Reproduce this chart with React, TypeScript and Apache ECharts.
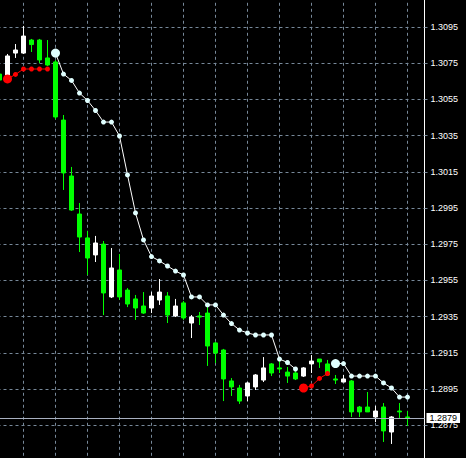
import React, { useEffect, useRef } from "react";
import * as echarts from "echarts";

// Candles, one per bar, oldest first (prices)
const OPEN = [
  1.3069, 1.30668, 1.30806, 1.30806, 1.30878, 1.30878, 1.30779, 1.30757, 1.30436, 1.30127,
  1.29917, 1.29785, 1.29691, 1.29751, 1.29459, 1.29608, 1.29497, 1.29448, 1.29409, 1.29398,
  1.29442, 1.29464, 1.29354, 1.29426, 1.29315, 1.29354, 1.2937, 1.29205, 1.29166, 1.28995,
  1.28956, 1.28912, 1.28962, 1.29, 1.29089, 1.29067, 1.29044, 1.29039, 1.29022, 1.29089,
  1.29116, 1.29089, 1.29006, 1.28989, 1.28995, 1.28851, 1.28851, 1.28796, 1.28851, 1.28713,
  1.28829, 1.28796,
];
const CLOSE = [
  1.30657, 1.3079, 1.30823, 1.309, 1.30853, 1.30768, 1.3074, 1.30453, 1.30144, 1.29939,
  1.2979, 1.29674, 1.29757, 1.29481, 1.29619, 1.29459, 1.2942, 1.29398, 1.2937, 1.29464,
  1.29486, 1.29359, 1.29409, 1.29343, 1.29348, 1.29348, 1.29188, 1.29149, 1.29006, 1.28962,
  1.28884, 1.28984, 1.29028, 1.29067, 1.29039, 1.29061, 1.29022, 1.29006, 1.29067, 1.29105,
  1.291, 1.29028, 1.29, 1.29006, 1.28824, 1.28824, 1.28824, 1.28829, 1.28719, 1.28796,
  1.28824, 1.28793,
];
const HIGH = [
  1.30701, 1.30801, 1.30856, 1.30956, 1.30884, 1.30884, 1.30878, 1.30768, 1.30464, 1.30177,
  1.29978, 1.29823, 1.29796, 1.29768, 1.29729, 1.29696, 1.29508, 1.2947, 1.29486, 1.29486,
  1.29558, 1.29486, 1.29448, 1.29437, 1.29359, 1.29376, 1.29409, 1.2921, 1.29172, 1.29011,
  1.28973, 1.28989, 1.29033, 1.29127, 1.29094, 1.29116, 1.29072, 1.29061, 1.29072, 1.29138,
  1.29116, 1.29111, 1.29028, 1.29028, 1.29, 1.28857, 1.28934, 1.28857, 1.28873, 1.28801,
  1.28873, 1.28829,
];
const LOW = [
  1.30646, 1.30657, 1.30779, 1.30801, 1.30812, 1.30751, 1.30735, 1.30442, 1.3005, 1.29934,
  1.29707, 1.2958, 1.29652, 1.29359, 1.29453, 1.29442, 1.29403, 1.29332, 1.29365, 1.2937,
  1.29415, 1.29315, 1.29348, 1.29332, 1.29232, 1.29304, 1.29078, 1.29094, 1.28884, 1.28912,
  1.28868, 1.28884, 1.28945, 1.28989, 1.29022, 1.29039, 1.28984, 1.29, 1.29017, 1.29039,
  1.29067, 1.29028, 1.28978, 1.28989, 1.28796, 1.28796, 1.28824, 1.28768, 1.28658, 1.28647,
  1.28785, 1.28746,
];

// Trailing stop indicator: white (down-trend) and red (up-trend) buffers
const TS_DOWN: (number | null)[] = [
  null, null, null, null, null, null, null, 1.30806, 1.3069, 1.30655,
  1.30585, 1.30544, 1.30489, 1.30425, 1.30425, 1.30348, 1.30133, 1.29923, 1.29774, 1.29682,
  1.29658, 1.2963, 1.29602, 1.2958, 1.29459, 1.29459, 1.29415, 1.29415, 1.29359, 1.29312,
  1.29276, 1.2926, 1.29249, 1.29249, 1.29249, 1.29116, 1.29097, 1.29061, null, null,
  null, null, 1.29091, 1.29091, 1.29022, 1.29022, 1.29022, 1.29022, 1.28984, 1.28956,
  1.28906, 1.28906,
];
const TS_UP: (number | null)[] = [
  null, 1.30663, 1.30688, 1.30718, 1.30718, 1.30718, 1.30718, null, null, null,
  null, null, null, null, null, null, null, null, null, null,
  null, null, null, null, null, null, null, null, null, null,
  null, null, null, null, null, null, null, null, 1.28956, 1.28967,
  1.29009, 1.29036, null, null, null, null, null, null, null, null,
  null, null,
];

const BID = 1.2879;
const AXIS_LOW_TICK = 1.2855; // lowest price tick label
const AXIS_HIGH_TICK = 1.3115;
const TICK_STEP = 0.002;

const GRID_COLOR = "#778899";
const BULL = "#ffffff";
const BEAR = "#00ff00";

// price -> pips above the lowest tick (axis works in pips so that min is a multiple of the interval)
const toPips = (p: number) => Math.round((p - AXIS_LOW_TICK) * 100000) / 10;

export default function App() {
  const ref = useRef<HTMLDivElement>(null);

  useEffect(() => {
    if (!ref.current) return;
    const chart = echarts.init(ref.current, null, { renderer: "svg" });

    const xs = OPEN.map((_, i) => i + 1);
    const candles = OPEN.map((o, i) => [xs[i], toPips(o), toPips(CLOSE[i]), toPips(LOW[i]), toPips(HIGH[i])]);
    const linePts = (arr: (number | null)[]) => arr.map((v, i) => [xs[i], v == null ? "-" : toPips(v)]);
    const sizeFor = (arr: (number | null)[]) => (_v: any, params: any) => {
      const i = params.dataIndex;
      return arr[i] != null && (i === 0 || arr[i - 1] == null) ? 9 : 5;
    };

    const option: any = {
      animation: false,
      backgroundColor: "#000000",
      grid: {
        left: -8.5,
        right: 41.5,
        top: -9.21,
        bottom: -3.52,
        containLabel: false,
        outerBoundsMode: "none",
      },
      xAxis: {
        type: "value",
        min: 0,
        max: 54.125,
        interval: 4,
        axisLine: { show: false },
        axisTick: { show: false },
        axisLabel: { show: false },
        splitLine: { show: true, lineStyle: { color: GRID_COLOR, type: [3, 3], width: 1 } },
      },
      yAxis: {
        type: "value",
        position: "right",
        min: 0,
        max: toPips(AXIS_HIGH_TICK),
        interval: toPips(AXIS_LOW_TICK + TICK_STEP),
        axisLine: { show: true, onZero: false, lineStyle: { color: "#ffffff", width: 1 } },
        axisTick: { show: true, length: 3, lineStyle: { color: GRID_COLOR } },
        axisLabel: {
          color: "#ffffff",
          fontFamily: "Liberation Sans",
          fontSize: 9,
          margin: 6,
          showMaxLabel: false,
          formatter: (v: number) => (AXIS_LOW_TICK + v / 10000).toFixed(4),
        },
        splitLine: { show: true, lineStyle: { color: GRID_COLOR, type: [3, 3], width: 1 } },
      },
      series: [
        {
          type: "candlestick",
          data: candles,
          barWidth: 4,
          silent: true,
          itemStyle: {
            color: BULL,
            color0: BEAR,
            borderColor: BULL,
            borderColor0: BEAR,
            borderWidth: 1,
          },
          markLine: {
            silent: true,
            symbol: ["none", "none"],
            data: [{ yAxis: toPips(BID) }],
            lineStyle: { color: "#a8b0c0", type: "solid", width: 1 },
            label: {
              show: true,
              position: "end",
              formatter: BID.toFixed(4),
              color: "#000000",
              backgroundColor: "#ffffff",
              fontFamily: "Liberation Sans",
              fontSize: 9,
              lineHeight: 10,
              padding: [0, 3, 0, 3],
              distance: 2,
            },
            emphasis: { disabled: true },
          },
        },
        {
          type: "line",
          data: linePts(TS_DOWN),
          silent: true,
          symbol: "circle",
          symbolSize: sizeFor(TS_DOWN),
          showSymbol: true,
          showAllSymbol: true,
          connectNulls: false,
          lineStyle: { color: "#ffffff", width: 1 },
          itemStyle: { color: "#e0ffff", borderWidth: 0 },
          z: 4,
        },
        {
          type: "line",
          data: linePts(TS_UP),
          silent: true,
          symbol: "circle",
          symbolSize: sizeFor(TS_UP),
          showSymbol: true,
          showAllSymbol: true,
          connectNulls: false,
          lineStyle: { color: "#ff0000", width: 1 },
          itemStyle: { color: "#ff0000", borderWidth: 0 },
          z: 4,
        },
      ],
    };

    chart.setOption(option);
    return () => chart.dispose();
  }, []);

  return <div ref={ref} style={{ position: "fixed", left: 0, top: 0, width: 466, height: 458 }} />;
}
